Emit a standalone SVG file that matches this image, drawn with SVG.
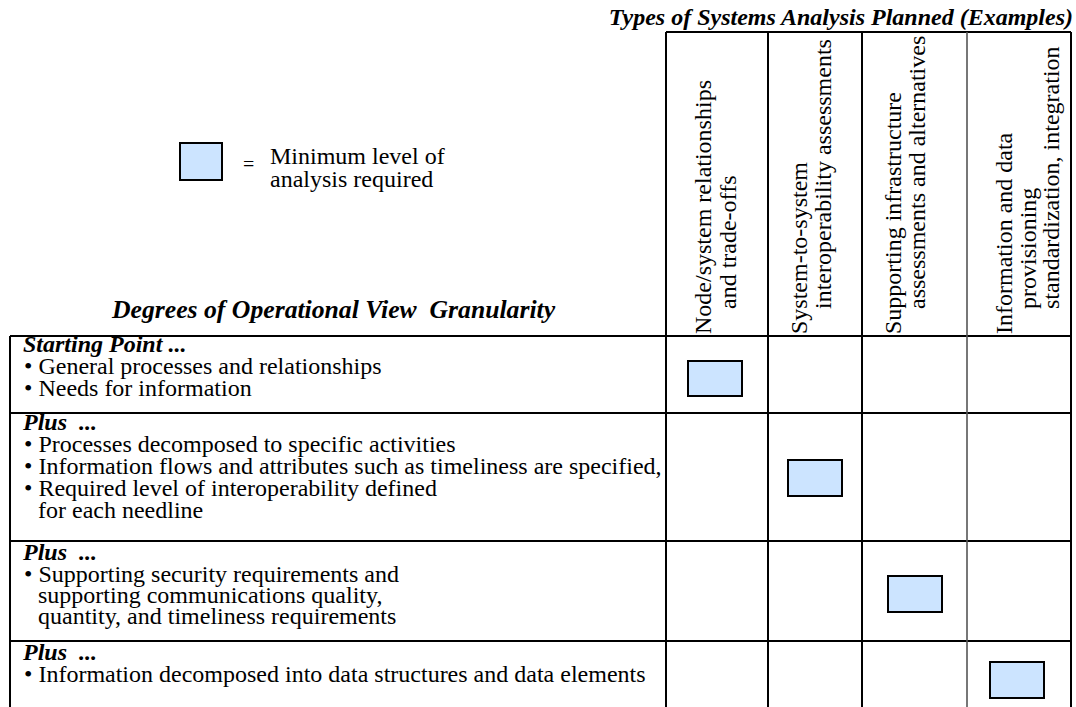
<svg xmlns="http://www.w3.org/2000/svg" width="1076" height="707" viewBox="0 0 1076 707">
<style>
.t{font-family:"Liberation Serif","Times New Roman",serif;font-size:24px;fill:#000;white-space:pre}
.bi{font-weight:bold;font-style:italic}
.ln{stroke:#000;stroke-width:2;fill:none}
.lg{stroke:#555;stroke-width:1.6;fill:none}
.box{fill:#cce4ff;stroke:#000;stroke-width:2}
</style>
<rect x="0" y="0" width="1076" height="707" fill="#fff"/>
<g id="grid">
<path class="ln" d="M666 32H1071M10 336H1071M10 413H1071M10 541H1071M10 641H1071M10 336V707M666 32V707M768 32V707M862 32V707M1071 32V707"/>
<path class="lg" d="M967 32V707"/>
</g>
<g id="title-types"><text class="t bi" x="1073" y="25" text-anchor="end">Types of Systems Analysis Planned (Examples)</text></g>
<g id="legend">
<rect class="box" x="180" y="143" width="42" height="37"/>
<text class="t" x="243" y="171" style="font-size:20px">=</text>
<text class="t" x="270" y="164">Minimum level of</text>
<text class="t" x="270" y="187">analysis required</text>
</g>
<g id="title-degrees"><text class="t bi" x="112" y="318" style="font-size:25.7px">Degrees of Operational View  Granularity</text></g>
<g id="col-1">
<text class="t" transform="translate(711,334) rotate(-90)">Node/system relationships</text>
<text class="t" transform="translate(736,309) rotate(-90)">and trade-offs</text>
</g>
<g id="col-2">
<text class="t" transform="translate(807,334) rotate(-90)">System-to-system</text>
<text class="t" transform="translate(831,309) rotate(-90)">interoperability assessments</text>
</g>
<g id="col-3">
<text class="t" transform="translate(901,334) rotate(-90)">Supporting infrastructure</text>
<text class="t" transform="translate(925,309) rotate(-90)">assessments and alternatives</text>
</g>
<g id="col-4">
<text class="t" transform="translate(1012,334) rotate(-90)">Information and data</text>
<text class="t" transform="translate(1036,309) rotate(-90)">provisioning</text>
<text class="t" transform="translate(1059,309) rotate(-90)">standardization, integration</text>
</g>
<g id="row-1">
<text class="t bi" x="23" y="352">Starting Point ...</text>
<text class="t" x="24" y="374">• General processes and relationships</text>
<text class="t" x="24" y="396">• Needs for information</text>
<rect class="box" x="688" y="361" width="54" height="35"/>
</g>
<g id="row-2">
<text class="t bi" x="23" y="430">Plus  ...</text>
<text class="t" x="24" y="452">• Processes decomposed to specific activities</text>
<text class="t" x="24" y="474">• Information flows and attributes such as timeliness are specified,</text>
<text class="t" x="24" y="496">• Required level of interoperability defined</text>
<text class="t" x="38" y="518">for each needline</text>
<rect class="box" x="788" y="460" width="54" height="36"/>
</g>
<g id="row-3">
<text class="t bi" x="23" y="560">Plus  ...</text>
<text class="t" x="24" y="582">• Supporting security requirements and</text>
<text class="t" x="38" y="603">supporting communications quality,</text>
<text class="t" x="38" y="624">quantity, and timeliness requirements</text>
<rect class="box" x="888" y="576" width="54" height="36"/>
</g>
<g id="row-4">
<text class="t bi" x="23" y="660">Plus  ...</text>
<text class="t" x="24" y="682">• Information decomposed into data structures and data elements</text>
<rect class="box" x="990" y="662" width="54" height="36"/>
</g>
</svg>
